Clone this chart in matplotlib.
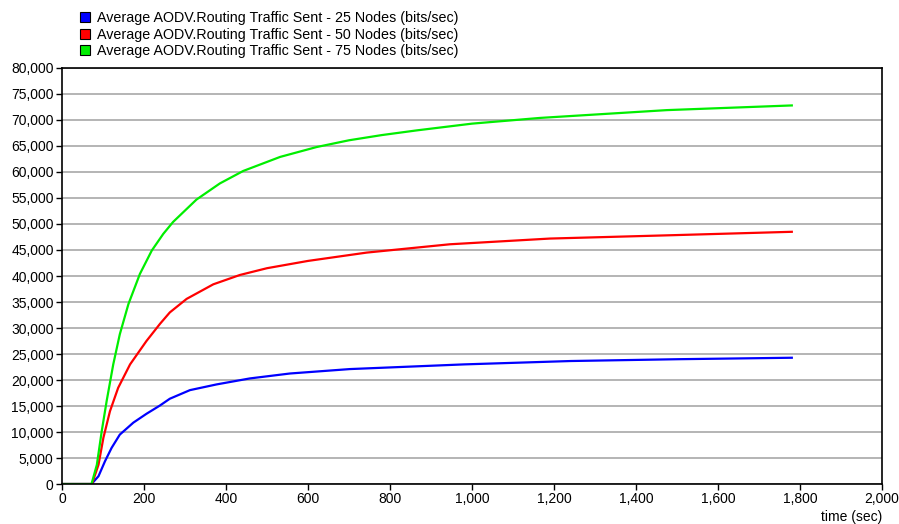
import matplotlib.pyplot as plt
from matplotlib.patches import Patch
from matplotlib.ticker import FuncFormatter

plt.rcParams['font.family'] = ['Liberation Sans', 'DejaVu Sans']

# time (sec) and routing traffic sent (bits/sec), read per series
time_25 = [0, 72, 89, 105, 121, 141, 174, 206, 239, 263, 312, 377, 458, 556,
           702, 980, 1241, 1504, 1780]
nodes_25 = [0, 0, 1500, 4400, 6950, 9500, 11800, 13500, 15100, 16400, 18050,
            19150, 20300, 21250, 22100, 23000, 23650, 24000, 24280]

time_50 = [0, 73, 89, 101, 117, 137, 166, 206, 239, 263, 304, 369, 434, 500,
           600, 743, 946, 1190, 1490, 1780]
nodes_50 = [0, 0, 3700, 8900, 14000, 18500, 23000, 27500, 30800, 33000, 35600,
            38400, 40200, 41500, 42900, 44500, 46100, 47200, 47850, 48500]

time_75 = [0, 72, 85, 97, 109, 125, 141, 162, 190, 219, 247, 271, 328, 385,
           442, 532, 621, 700, 780, 865, 1000, 1166, 1475, 1780]
nodes_75 = [0, 0, 3700, 10200, 16000, 23000, 28800, 34600, 40400, 44900, 48100,
            50400, 54700, 57800, 60200, 62900, 64800, 66100, 67100, 68000, 69300,
            70400, 71900, 72800]

labels = ['Average AODV.Routing Traffic Sent - 25 Nodes (bits/sec)',
          'Average AODV.Routing Traffic Sent - 50 Nodes (bits/sec)',
          'Average AODV.Routing Traffic Sent - 75 Nodes (bits/sec)']
colors = ['#0000ff', '#ff0000', '#00ee00']

fig = plt.figure(figsize=(8.99, 5.24), dpi=100)
ax = fig.add_axes([62 / 899, 1 - 484 / 524, 820 / 899, 416 / 524])

for t, series, c in zip([time_25, time_50, time_75],
                        [nodes_25, nodes_50, nodes_75], colors):
    ax.plot(t, series, color=c, linewidth=1.6)

ax.set_xlim(0, 2000)
ax.set_ylim(0, 80000)
ax.set_xticks(range(0, 2001, 200))
ax.set_yticks(range(0, 80001, 5000))
ax.xaxis.set_major_formatter(FuncFormatter(lambda v, p: f'{int(v):,}'))
ax.yaxis.set_major_formatter(FuncFormatter(lambda v, p: f'{int(v):,}'))
ax.tick_params(labelsize=10, length=4, width=1, color='black', pad=2)
ax.yaxis.grid(True, color='#a8a8a8', linewidth=1.2)
ax.set_axisbelow(True)
for s in ax.spines.values():
    s.set_linewidth(1.2)

ax.set_xlabel('time (sec)', loc='right', fontsize=10, labelpad=3)

handles = [Patch(facecolor=c, edgecolor='black', linewidth=0.8) for c in colors]
fig.legend(handles, labels, loc='upper left', bbox_to_anchor=(74 / 899, 1 - 5 / 524),
           frameon=False, fontsize=10.3, handlelength=0.7, handleheight=0.7,
           handletextpad=0.5, labelspacing=0.2, borderaxespad=0)

plt.savefig('out.png', dpi=100)
